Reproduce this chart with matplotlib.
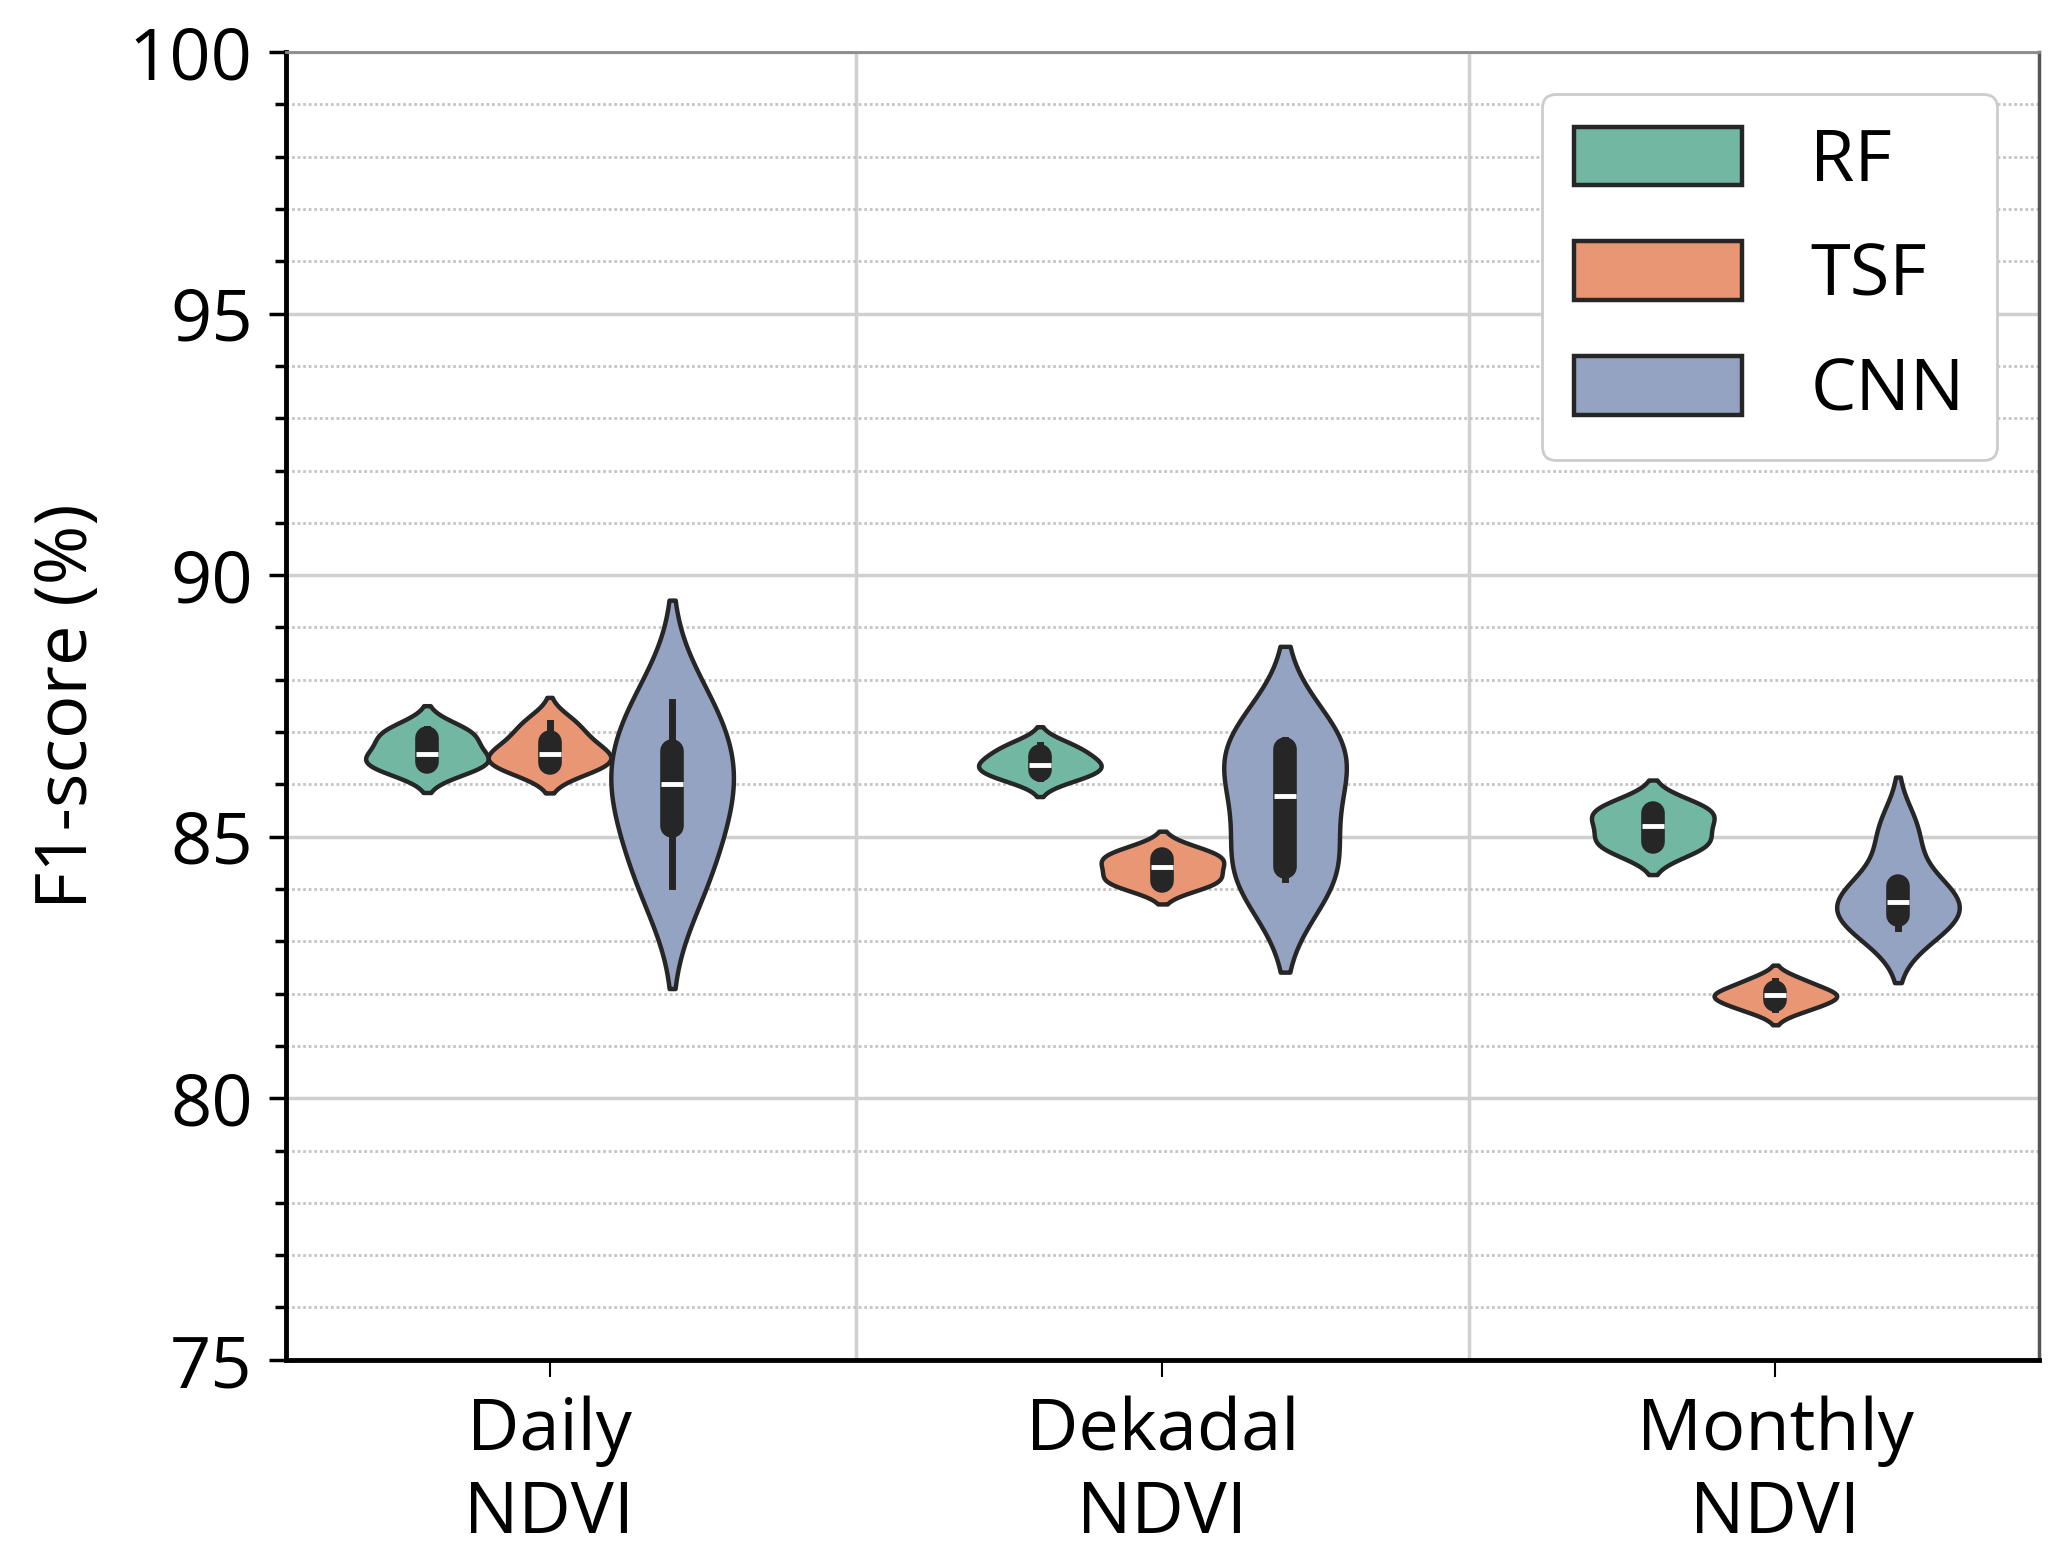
import numpy as np
import matplotlib.pyplot as plt
from matplotlib.mlab import GaussianKDE
from matplotlib.cbook import boxplot_stats
from matplotlib.patches import Patch
from matplotlib.ticker import MultipleLocator

plt.rcParams['font.family'] = ['Open Sans', 'DejaVu Sans']

categories = ["Daily\nNDVI", "Dekadal\nNDVI", "Monthly\nNDVI"]
models = ["RF", "TSF", "CNN"]
colors = ["#71b7a1", "#e99675", "#95a3c3"]

# F1-scores (%) of five runs for each model, one list per NDVI product
rf_scores = [[86.30, 86.42, 86.58, 86.88, 87.05],
             [86.12, 86.28, 86.38, 86.55, 86.75],
             [84.78, 84.89, 85.21, 85.46, 85.58]]
tsf_scores = [[86.33, 86.41, 86.58, 86.82, 87.17],
              [84.10, 84.16, 84.42, 84.58, 84.72],
              [81.70, 81.87, 81.97, 82.04, 82.25]]
cnn_scores = [[84.05, 85.20, 86.00, 86.64, 87.57],
              [84.20, 84.42, 85.78, 86.67, 86.85],
              [83.25, 83.50, 83.76, 84.05, 85.10]]

dark = "#262626"
fs = 52


def violin(ax, x, scores, color, half=0.1, cut=2):
    scores = np.asarray(scores)
    kde = GaussianKDE(scores, 'scott')
    bw = np.sqrt(kde.covariance[0, 0])
    y = np.linspace(scores.min() - cut * bw, scores.max() + cut * bw, 200)
    d = kde(y)
    w = d / d.max() * half
    ax.fill_betweenx(y, x - w, x + w, facecolor=color, edgecolor=dark, lw=3.2, zorder=3)
    st = boxplot_stats(scores)[0]
    ax.plot([x, x], [st['whislo'], st['whishi']], color=dark, lw=5, zorder=4)
    ax.plot([x, x], [st['q1'], st['q3']], color=dark, lw=17, solid_capstyle='round', zorder=4)
    ax.plot(x, st['med'], marker='_', ms=16, mew=3.5, color='white', zorder=5)


fig, ax = plt.subplots(figsize=(20.5, 15.63), dpi=100)
fig.subplots_adjust(left=0.1395, right=0.9946, top=0.9667, bottom=0.130)

offsets = [-0.2, 0.0, 0.2]
for i in range(len(categories)):
    for j, data in enumerate([rf_scores, tsf_scores, cnn_scores]):
        violin(ax, i + offsets[j], data[i], colors[j])

ax.set_xlim(-0.43, 2.43)
ax.set_ylim(75, 100)
ax.set_xticks(range(len(categories)))
ax.set_xticklabels(categories, fontsize=fs, linespacing=1.2)
ax.set_xticks([0.5, 1.5], minor=True)
ax.set_yticks(np.arange(75, 101, 5))
ax.yaxis.set_minor_locator(MultipleLocator(1))
ax.tick_params(axis='y', which='major', labelsize=fs, length=12, width=2.5, pad=12)
ax.tick_params(axis='y', which='minor', length=8, width=2.5)
ax.tick_params(axis='x', which='major', length=12, width=1.5, pad=14)
ax.tick_params(axis='x', which='minor', length=0)
ax.set_ylabel("F1-score (%)", fontsize=fs, labelpad=18)

ax.set_axisbelow(True)
ax.yaxis.grid(True, which='major', color='#d0d0d0', lw=2.5)
ax.yaxis.grid(True, which='minor', color='#c4c4c4', lw=2, ls=(0, (1, 1)))
ax.xaxis.grid(True, which='minor', color='#d0d0d0', lw=2.5)
ax.xaxis.grid(False, which='major')

ax.spines['left'].set_linewidth(3.5)
ax.spines['bottom'].set_linewidth(3.5)
ax.spines['top'].set_color('#8a8a8a')
ax.spines['top'].set_linewidth(2)
ax.spines['right'].set_color('#555555')
ax.spines['right'].set_linewidth(2.5)

handles = [Patch(facecolor=c, edgecolor=dark, lw=3.2, label=m) for c, m in zip(colors, models)]
leg = ax.legend(handles=handles, loc='upper right', fontsize=fs, handlelength=2.33,
                handleheight=0.875, handletextpad=0.94, labelspacing=0.6, borderpad=0.45,
                borderaxespad=0.58, fancybox=True, edgecolor='#cccccc', framealpha=1)
leg.get_frame().set_linewidth(2)

plt.savefig("out.png")
